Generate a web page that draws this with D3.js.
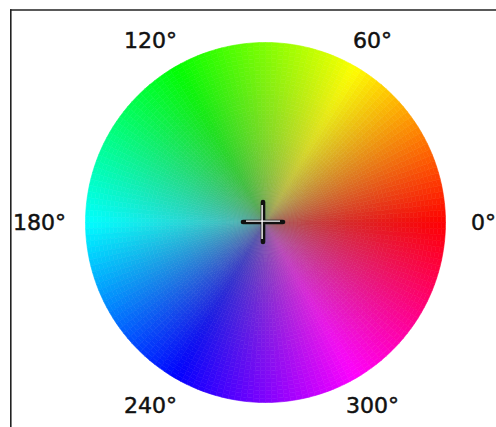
<!DOCTYPE html>
<html>
<head>
<meta charset="utf-8">
<script src="https://cdn.jsdelivr.net/npm/d3@7"></script>
<style>
  html, body { margin: 0; padding: 0; background: #fff; }
  svg { display: block; }
</style>
</head>
<body>
<svg id="chart" width="496" height="427"></svg>
<script>
// ---- data ----
const hueTicks = [0, 60, 120, 180, 240, 300];
const hueTickLabels = ["0°", "60°", "120°", "180°", "240°", "300°"];
const hueDomain = [0, 360];
const saturationDomain = [0, 1];
const lightness = 0.5;

// ---- layout ----
const W = 496, H = 427;
const cx = 265.5, cy = 222.5, R = 180;
const angleStep = 2, rings = 45;

const svg = d3.select("#chart");

// frame (top + left rules)
svg.append("line").attr("x1", 10).attr("x2", W).attr("y1", 10).attr("y2", 10)
  .attr("stroke", "#222").attr("stroke-width", 1.6);
svg.append("line").attr("x1", 10.8).attr("x2", 10.8).attr("y1", 9.2).attr("y2", H)
  .attr("stroke", "#222").attr("stroke-width", 1.6);

// scales
const angle = d3.scaleLinear().domain(hueDomain).range([0, 2 * Math.PI]);
const radius = d3.scaleLinear().domain(saturationDomain).range([0, R]);
const satScale = d3.scalePow().exponent(0.5).domain([0, R]).range([0, 1]);

const arc = d3.arc();
const g = svg.append("g").attr("transform", `translate(${cx},${cy})`);

const cells = [];
for (let h = hueDomain[0]; h < hueDomain[1]; h += angleStep) {
  for (let k = 0; k < rings; k++) {
    const s0 = k / rings, s1 = (k + 1) / rings;
    cells.push({ h0: h, h1: h + angleStep, r0: radius(s0), r1: radius(s1) });
  }
}

g.selectAll("path.cell").data(cells).join("path")
  .attr("class", "cell")
  .attr("d", d => arc({
    innerRadius: d.r0,
    outerRadius: d.r1,
    startAngle: Math.PI / 2 - angle(d.h1),
    endAngle: Math.PI / 2 - angle(d.h0)
  }))
  .each(function(d) {
    const hm = (d.h0 + d.h1) / 2;
    const rm = (d.r0 + d.r1) / 2;
    const c = d3.hsl(hm, satScale(rm), lightness).formatRgb();
    d3.select(this).attr("fill", c).attr("stroke", c).attr("stroke-width", 0.6);
  });

// crosshair
const ch = svg.append("g").attr("transform", `translate(${cx - 2.5},${cy - 0.5})`);
const arm = 20;
ch.append("line").attr("x1", -arm).attr("x2", arm).attr("y1", 0).attr("y2", 0)
  .attr("stroke", "#111").attr("stroke-width", 4.6).attr("stroke-linecap", "round");
ch.append("line").attr("x1", 0).attr("x2", 0).attr("y1", -arm).attr("y2", arm)
  .attr("stroke", "#111").attr("stroke-width", 4.6).attr("stroke-linecap", "round");
ch.append("line").attr("x1", -arm + 3).attr("x2", arm - 3).attr("y1", -0.9).attr("y2", -0.9)
  .attr("stroke", "#fff").attr("stroke-width", 1.4);
ch.append("line").attr("x1", -0.9).attr("x2", -0.9).attr("y1", -arm + 3).attr("y2", arm - 3)
  .attr("stroke", "#fff").attr("stroke-width", 1.4);

// hue labels
const rx = 222, ry = 211;
svg.selectAll("text.hue").data(hueTicks).join("text")
  .attr("class", "hue")
  .attr("x", d => cx - 4 + rx * Math.cos(angle(d)))
  .attr("y", d => cy - ry * Math.sin(angle(d)))
  .attr("dy", "0.36em")
  .attr("text-anchor", "middle")
  .attr("font-family", "DejaVu Sans, sans-serif")
  .attr("font-size", 22)
  .attr("fill", "#111")
  .attr("stroke", "#111")
  .attr("stroke-width", 0.5)
  .text((d, i) => hueTickLabels[i]);
</script>
</body>
</html>
